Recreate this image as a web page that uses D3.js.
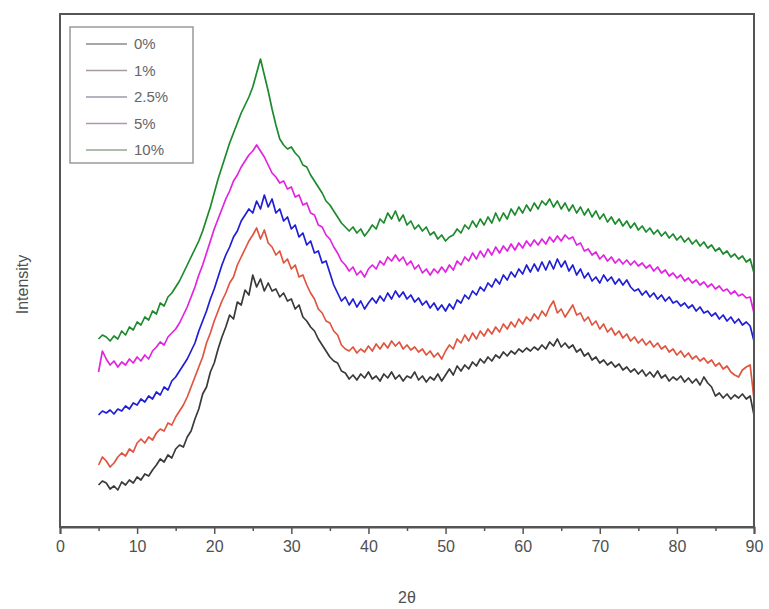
<!DOCTYPE html>
<html>
<head>
<meta charset="utf-8">
<script src="https://cdn.jsdelivr.net/npm/d3@7"></script>
<style>
  html, body { margin: 0; padding: 0; background: #fff; }
  svg { display: block; }
  text { font-family: "Liberation Sans", Arial, sans-serif; }
</style>
</head>
<body>
<svg id="chart" width="769" height="609"></svg>
<script>
// XRD patterns, 2θ from 5° to 90° in 0.5° steps (intensity in arbitrary units, stacked)
const thetaStart = 5, thetaStep = 0.5;

const labels = ["0%", "1%", "2.5%", "5%", "10%"];
const colors = ["#3a3a3a", "#e0553f", "#1f1fd6", "#e024e0", "#1e8a2e"];
const legendColors = ["#8a8a8a", "#a89a9a", "#9a9aae", "#b096b0", "#92a894"];

const xTicks = [0, 10, 20, 30, 40, 50, 60, 70, 80, 90];
const xMinorTicks = [5, 15, 25, 35, 45, 55, 65, 75, 85];

const s0 = [42,46,44,38,41,37,45,42,47,44,50,47,53,51,57,62,68,65,72,69,
  78,82,80,90,96,108,118,133,140,155,164,178,190,200,212,208,225,222,237,232,
  252,240,248,236,244,236,238,230,234,226,228,218,222,210,206,200,196,188,182,176,
  170,166,164,156,154,148,152,147,153,149,155,148,151,146,153,149,155,148,152,146,
  151,149,155,147,151,145,150,147,153,146,152,158,152,161,156,162,158,165,161,168,
  164,170,166,172,169,175,171,176,173,178,175,179,176,180,177,182,178,185,181,188,
  180,184,179,182,175,178,171,174,167,170,164,167,162,165,160,163,157,160,155,158,
  153,157,151,155,150,156,149,152,146,150,147,151,145,149,144,148,142,150,144,140,
  131,134,129,133,128,132,129,133,128,131,112];

const s1 = [62,70,66,60,64,70,74,71,78,75,84,88,84,90,87,94,98,96,104,102,
  110,116,122,130,140,150,160,170,184,194,206,216,226,234,244,250,262,270,278,286,
  292,299,288,297,284,280,272,276,264,268,258,262,250,252,242,234,228,218,214,206,
  204,196,192,182,178,176,180,174,178,175,181,176,183,178,184,179,186,181,185,178,
  182,177,180,175,178,172,176,170,174,168,176,182,178,188,184,192,186,194,188,196,
  191,198,193,200,195,203,198,205,200,208,203,210,206,213,208,216,211,220,226,214,
  218,210,216,222,212,214,206,210,202,206,198,203,195,199,192,196,189,193,186,190,
  184,188,182,186,180,184,178,181,175,178,172,176,170,174,168,171,166,169,164,167,
  161,164,158,161,155,152,150,157,160,162,128];

const s2 = [112,116,114,117,113,118,116,121,118,124,122,128,125,131,128,135,132,140,137,146,
  150,156,162,168,176,184,196,206,216,228,238,250,262,272,280,290,296,306,312,318,
  314,326,318,332,320,328,314,318,306,310,298,302,290,294,282,286,274,276,264,266,
  254,242,234,226,230,222,228,220,226,218,224,229,224,231,226,234,228,236,230,235,
  228,232,225,229,222,226,219,224,217,222,216,223,218,227,224,232,228,236,232,240,
  236,244,240,248,243,252,247,255,250,258,253,262,255,263,256,265,257,266,258,268,
  260,266,256,262,252,258,249,254,246,250,244,252,246,250,243,248,242,247,240,236,
  238,232,236,230,234,228,232,226,230,224,226,221,224,219,222,216,220,214,216,211,
  214,208,212,206,210,204,208,202,205,201,186];

const s3 = [155,176,168,162,166,160,165,162,168,164,170,166,172,168,176,180,185,182,190,194,
  198,204,212,220,230,240,252,262,274,286,298,308,318,328,336,346,352,360,366,372,
  376,382,376,370,362,354,350,344,346,338,340,330,332,322,324,314,312,302,300,292,
  288,280,274,266,262,256,260,252,256,250,258,262,258,266,262,270,266,272,266,270,
  262,266,258,262,254,258,252,258,254,260,255,262,257,266,262,270,266,274,268,276,
  270,278,272,280,274,281,276,283,277,284,279,286,281,287,282,288,283,290,285,291,
  286,292,288,290,282,284,276,278,272,275,268,272,266,270,264,268,263,267,262,266,
  261,264,259,262,256,260,254,257,251,254,249,252,246,249,244,247,242,245,240,243,
  238,241,236,238,233,236,231,233,229,230,214];

const s4 = [188,192,190,186,191,188,196,192,200,197,205,202,210,207,216,213,224,221,230,234,
  240,246,254,262,270,278,286,296,308,320,334,348,360,372,384,394,404,414,422,430,
  440,454,468,452,436,418,402,388,382,378,380,374,370,362,360,352,346,340,334,326,
  322,316,310,304,300,296,300,294,298,291,296,302,298,308,304,314,308,316,306,312,
  302,306,298,302,296,300,292,295,288,292,286,290,292,298,294,302,298,306,300,308,
  302,310,304,314,306,314,308,318,312,320,314,322,316,324,318,326,322,328,320,326,
  318,324,316,322,314,320,312,318,310,316,308,313,305,310,303,308,301,306,299,304,
  297,301,295,299,293,297,291,295,289,293,287,291,285,289,283,287,281,285,279,282,
  276,279,273,276,270,273,268,271,265,268,254];

const seriesValues = [s0, s1, s2, s3, s4];

const svg = d3.select("#chart");
const margin = { left: 60, right: 15, top: 14, bottom: 82 };
const W = 769, H = 609;
const plotW = W - margin.left - margin.right;
const plotH = H - margin.top - margin.bottom;

const x = d3.scaleLinear().domain([0, 90]).range([margin.left, margin.left + plotW]);
const y = d3.scaleLinear().domain([0, 513]).range([margin.top + plotH, margin.top]);

const clipId = "plot-clip";
svg.append("clipPath").attr("id", clipId)
  .append("rect")
  .attr("x", margin.left).attr("y", margin.top)
  .attr("width", plotW).attr("height", plotH);

// Data curves
const line = d3.line()
  .x(d => x(d[0]))
  .y(d => y(d[1]));

const curves = svg.append("g").attr("clip-path", `url(#${clipId})`);
seriesValues.forEach((vals, i) => {
  const pts = vals.map((v, k) => [thetaStart + k * thetaStep, v]);
  curves.append("path")
    .datum(pts)
    .attr("fill", "none")
    .attr("stroke", colors[i])
    .attr("stroke-width", 1.7)
    .attr("stroke-linejoin", "round")
    .attr("d", line);
});

// Plot frame
svg.append("rect")
  .attr("x", margin.left).attr("y", margin.top)
  .attr("width", plotW).attr("height", plotH)
  .attr("fill", "none")
  .attr("stroke", "#555")
  .attr("stroke-width", 2);

// Bottom axis: major ticks with labels, minor ticks between
const xAxis = d3.axisBottom(x)
  .tickValues(xTicks)
  .tickSize(7)
  .tickPadding(7)
  .tickFormat(d3.format("d"));
const gx = svg.append("g")
  .attr("transform", `translate(0,${margin.top + plotH})`)
  .call(xAxis);
gx.select(".domain").attr("stroke", "#555").attr("stroke-width", 2);
gx.selectAll(".tick line").attr("stroke", "#555").attr("stroke-width", 1.5);
gx.selectAll(".tick text")
  .attr("fill", "#505050")
  .style("font-size", "16px");

const xMinor = d3.axisBottom(x).tickValues(xMinorTicks).tickSize(4).tickFormat("");
const gxm = svg.append("g")
  .attr("transform", `translate(0,${margin.top + plotH})`)
  .call(xMinor);
gxm.select(".domain").remove();
gxm.selectAll(".tick line").attr("stroke", "#555").attr("stroke-width", 1.5);

// Axis titles
svg.append("text")
  .attr("x", x(45))
  .attr("y", 603)
  .attr("text-anchor", "middle")
  .attr("fill", "#505050")
  .style("font-size", "16px")
  .text("2θ");

svg.append("text")
  .attr("transform", `translate(28,${margin.top + plotH / 2 + 14}) rotate(-90)`)
  .attr("text-anchor", "middle")
  .attr("fill", "#505050")
  .style("font-size", "16px")
  .text("Intensity");

// Legend
const legend = svg.append("g");
legend.append("rect")
  .attr("x", 70).attr("y", 27)
  .attr("width", 123).attr("height", 136)
  .attr("fill", "#fff")
  .attr("stroke", "#999")
  .attr("stroke-width", 1.5);

labels.forEach((lab, i) => {
  const ly = 44 + i * 26.5;
  legend.append("line")
    .attr("x1", 86).attr("x2", 127)
    .attr("y1", ly).attr("y2", ly)
    .attr("stroke", legendColors[i])
    .attr("stroke-width", 1.6);
  legend.append("text")
    .attr("x", 134).attr("y", ly + 5)
    .attr("fill", "#666")
    .style("font-size", "15px")
    .text(lab);
});
</script>
</body>
</html>
